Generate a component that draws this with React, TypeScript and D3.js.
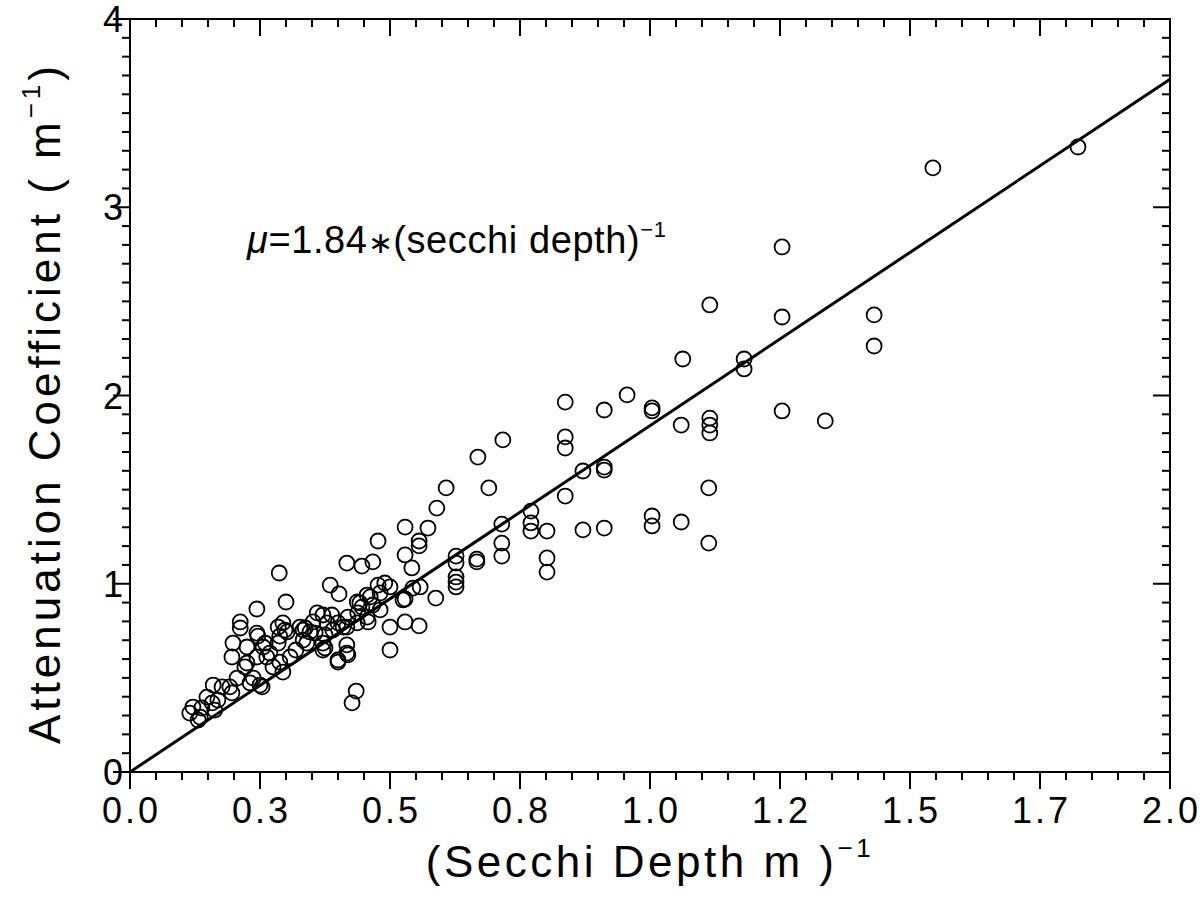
import React from "react";
import * as d3 from "d3";

// (Secchi depth)^-1 in 1/m
const secchiInv = [
  1.823, 1.544, 1.254, 1.115, 1.431, 1.254, 1.431, 1.063, 1.181, 1.181,
  0.956, 0.837, 0.912, 1.004, 1.004, 1.254, 1.337, 1.115, 1.115, 1.115,
  1.060, 0.717, 0.837, 0.837, 0.669, 0.871, 0.912, 0.912, 0.608, 0.690,
  1.113, 0.837, 0.590, 0.771, 0.771, 0.771, 0.715, 0.529, 0.573, 0.802,
  0.871, 0.912, 1.004, 1.004, 1.060, 1.113, 0.477, 0.556, 0.556, 0.715,
  0.529, 0.627, 0.667, 0.667, 0.715, 0.802, 0.802, 0.542, 0.467, 0.417,
  0.446, 0.287, 0.627, 0.627, 0.627, 0.627, 0.385, 0.558, 0.477, 0.490,
  0.500, 0.402, 0.481, 0.456, 0.529, 0.588, 0.300, 0.437, 0.446, 0.467,
  0.481, 0.244, 0.419, 0.438, 0.458, 0.360, 0.371, 0.388, 0.400, 0.379,
  0.352, 0.337, 0.356, 0.375, 0.390, 0.417, 0.437, 0.500, 0.529, 0.556,
  0.417, 0.417, 0.400, 0.375, 0.340, 0.500, 0.435, 0.427, 0.212, 0.212,
  0.198, 0.196, 0.225, 0.225, 0.244, 0.246, 0.256, 0.260, 0.263, 0.269,
  0.285, 0.285, 0.294, 0.298, 0.288, 0.308, 0.319, 0.275, 0.288, 0.294,
  0.237, 0.206, 0.221, 0.244, 0.250, 0.231, 0.160, 0.177, 0.192, 0.196,
  0.148, 0.158, 0.169, 0.121, 0.115, 0.135, 0.163, 0.131, 0.138, 0.254,
  0.333, 0.346, 0.333, 0.371, 0.371, 0.400, 0.419, 0.410, 0.456, 0.442,
  0.462, 0.544, 0.525, 0.327, 0.302,
];

// Attenuation coefficient in 1/m
const attenuation = [
  3.320, 3.209, 2.789, 2.481, 2.428, 2.417, 2.263, 2.194, 2.194, 2.141,
  2.003, 1.965, 1.923, 1.934, 1.918, 1.918, 1.865, 1.880, 1.843, 1.801,
  1.843, 1.764, 1.780, 1.721, 1.673, 1.599, 1.620, 1.604, 1.509, 1.509,
  1.509, 1.466, 1.402, 1.386, 1.323, 1.280, 1.317, 1.301, 1.296, 1.280,
  1.286, 1.296, 1.360, 1.307, 1.328, 1.216, 1.227, 1.227, 1.201, 1.216,
  1.153, 1.147, 1.131, 1.116, 1.147, 1.137, 1.062, 1.084, 1.116, 1.110,
  1.094, 1.057, 1.110, 1.036, 1.009, 0.983, 0.993, 0.983, 0.993, 1.004,
  0.983, 0.946, 0.951, 0.940, 0.919, 0.924, 0.903, 0.903, 0.876, 0.887,
  0.861, 0.866, 0.823, 0.845, 0.797, 0.845, 0.834, 0.834, 0.792, 0.792,
  0.797, 0.765, 0.738, 0.728, 0.754, 0.770, 0.792, 0.770, 0.797, 0.776,
  0.675, 0.632, 0.595, 0.659, 0.685, 0.648, 0.430, 0.367, 0.797, 0.765,
  0.685, 0.611, 0.664, 0.579, 0.738, 0.722, 0.664, 0.685, 0.611, 0.632,
  0.685, 0.770, 0.792, 0.754, 0.722, 0.611, 0.648, 0.558, 0.584, 0.531,
  0.499, 0.499, 0.558, 0.611, 0.462, 0.473, 0.462, 0.452, 0.452, 0.420,
  0.398, 0.367, 0.382, 0.345, 0.313, 0.292, 0.329, 0.276, 0.340, 0.452,
  0.754, 0.744, 0.701, 0.685, 0.648, 0.584, 0.622, 0.770, 0.823, 0.898,
  0.930, 0.977, 0.914, 0.770, 0.744,
];

const fitSlope = 1.84;
const fitRange = [0, 2.0];

const xMajorTicks = [0, 0.25, 0.5, 0.75, 1.0, 1.25, 1.5, 1.75, 2.0];
const xTickLabels = ["0.0", "0.3", "0.5", "0.8", "1.0", "1.2", "1.5", "1.7", "2.0"];
const yMajorTicks = [0, 1, 2, 3, 4];
const yTickLabels = ["0", "1", "2", "3", "4"];

const FONT = "'Liberation Sans', Arial, sans-serif";

export default function App() {
  const W = 1202;
  const H = 912;
  const left = 130, right = 1170, top = 19, bottom = 772;
  const x = d3.scaleLinear().domain([0, 2]).range([left, right]);
  const y = d3.scaleLinear().domain([0, 4]).range([bottom, top]);

  const xMinor = d3.range(0, 2.0001, 0.05);
  const yMinor = d3.range(0, 4.0001, 0.1);
  const isXMajor = (v: number) => xMajorTicks.some((m) => Math.abs(m - v) < 1e-6);
  const isYMajor = (v: number) => yMajorTicks.some((m) => Math.abs(m - v) < 1e-6);

  const line = d3
    .line<number>()
    .x((d) => x(d))
    .y((d) => y(fitSlope * d));

  const pts = secchiInv.map((v, i) => [v, attenuation[i]]);

  return (
    <svg
      width={W}
      height={H}
      style={{ position: "absolute", left: 0, top: 0, background: "#fff" }}
      fontFamily={FONT}
    >
      <rect x={0} y={0} width={W} height={H} fill="#fff" />
      {/* frame */}
      <rect x={left} y={top} width={right - left} height={bottom - top} fill="none" stroke="#000" strokeWidth={2} />

      {/* x ticks: bottom outward, top inward */}
      {xMinor.map((v, i) => {
        const L = isXMajor(v) ? 17 : 8;
        return (
          <g key={"xt" + i} stroke="#000" strokeWidth={2}>
            <line x1={x(v)} x2={x(v)} y1={bottom} y2={bottom + L} />
            <line x1={x(v)} x2={x(v)} y1={top} y2={top + L} />
          </g>
        );
      })}
      {/* y ticks: left outward, right inward */}
      {yMinor.map((v, i) => {
        const L = isYMajor(v) ? 17 : 8;
        return (
          <g key={"yt" + i} stroke="#000" strokeWidth={2}>
            <line x1={left - L} x2={left} y1={y(v)} y2={y(v)} />
            <line x1={right - L} x2={right} y1={y(v)} y2={y(v)} />
          </g>
        );
      })}

      {/* x tick labels */}
      {xMajorTicks.map((v, i) => (
        <text key={"xl" + i} x={x(v) + 1.5} y={823} textAnchor="middle" fontSize={36} letterSpacing={3} fill="#000">
          {xTickLabels[i]}
        </text>
      ))}
      {/* y tick labels */}
      {yMajorTicks.map((v, i) => (
        <text key={"yl" + i} x={123} y={y(v) + 13} textAnchor="end" fontSize={36} fill="#000">
          {yTickLabels[i]}
        </text>
      ))}

      {/* fit line */}
      <path d={line(fitRange) || ""} fill="none" stroke="#000" strokeWidth={3} />

      {/* points */}
      {pts.map((p, i) => (
        <circle key={"p" + i} cx={x(p[0])} cy={y(p[1])} r={7.5} fill="none" stroke="#000" strokeWidth={1.8} />
      ))}

      {/* annotation */}
      <text x={247} y={253} fontSize={38} letterSpacing={0.6} fill="#000">
        <tspan fontStyle="italic">μ</tspan>
        <tspan>=1.84</tspan>
        <tspan fontSize={30}>∗</tspan>
        <tspan>(secchi depth)</tspan>
        <tspan fontSize={22} dy={-16}>−1</tspan>
      </text>

      {/* axis titles */}
      <text x={650} y={877} textAnchor="middle" fontSize={44} letterSpacing={3.5} fill="#000">
        <tspan>(Secchi Depth m )</tspan>
        <tspan fontSize={26} dy={-20}>−1</tspan>
      </text>
      <text
        transform={`translate(60, 403) rotate(-90)`}
        textAnchor="middle"
        fontSize={44}
        letterSpacing={4}
        fill="#000"
      >
        <tspan>Attenuation Coefficient ( m</tspan>
        <tspan fontSize={26} dy={-20}>−1</tspan>
        <tspan fontSize={44} dy={20}>)</tspan>
      </text>
    </svg>
  );
}
